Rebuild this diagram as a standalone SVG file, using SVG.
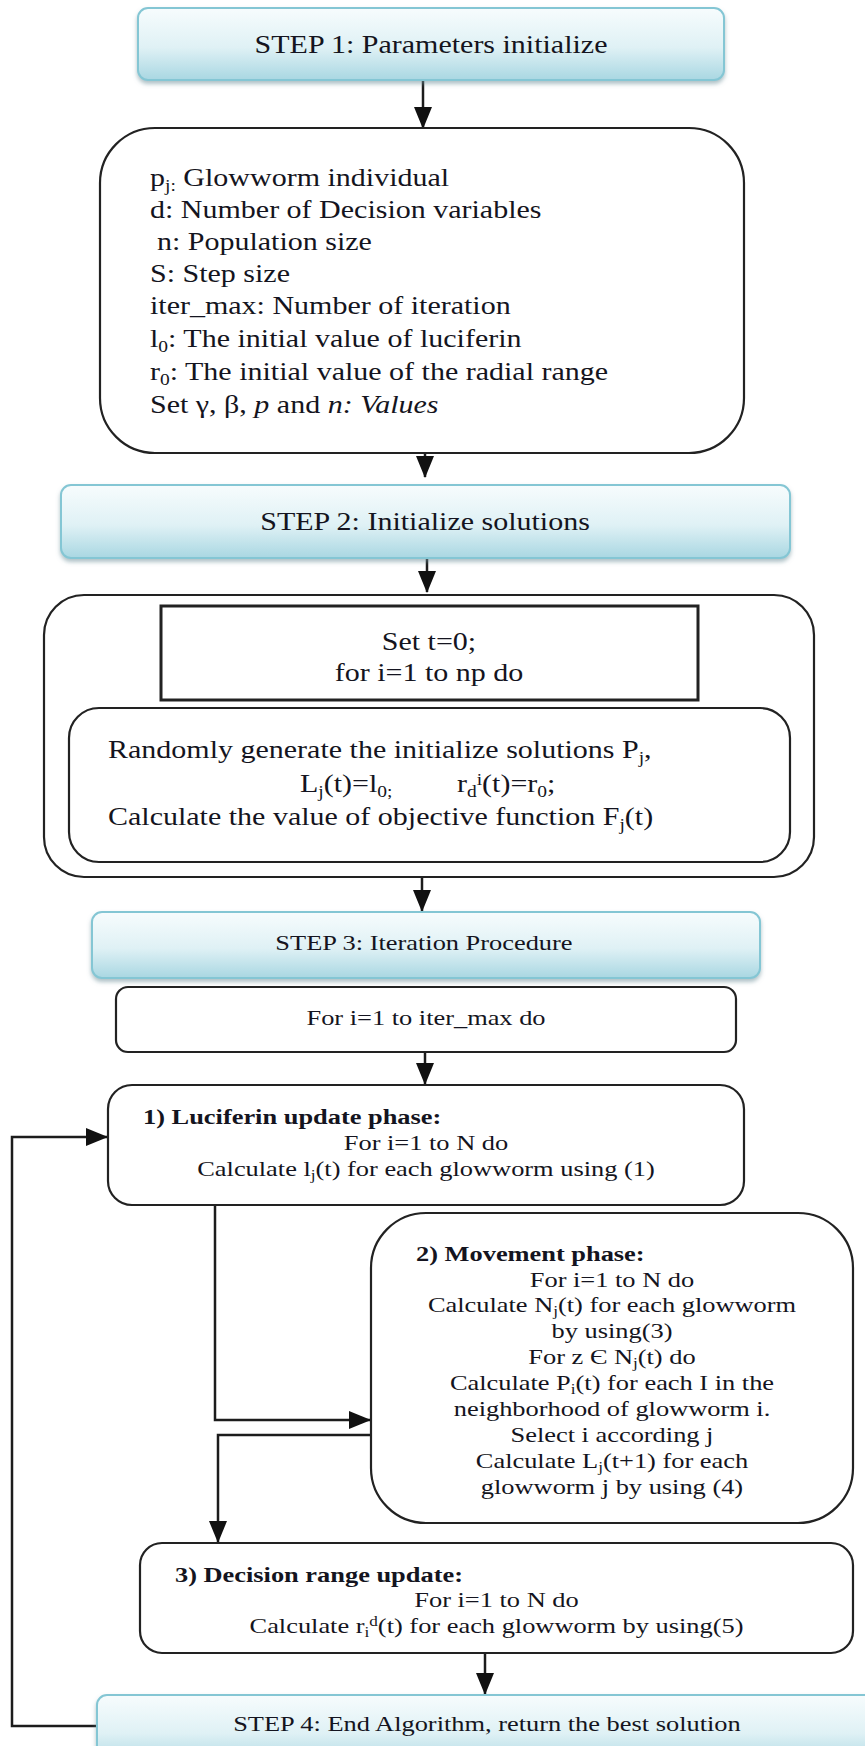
<svg xmlns="http://www.w3.org/2000/svg" width="865" height="1746" viewBox="0 0 865 1746">
  <defs>
    <linearGradient id="stepFill" x1="0" y1="0" x2="0" y2="1">
      <stop offset="0" stop-color="#f7fcfd"/>
      <stop offset="0.55" stop-color="#dff1f5"/>
      <stop offset="1" stop-color="#a9d7e2"/>
    </linearGradient>
    <filter id="shadow" x="-5%" y="-20%" width="110%" height="150%">
      <feDropShadow dx="0" dy="3" stdDeviation="2" flood-color="#6d8f99" flood-opacity="0.55"/>
    </filter>
    <marker id="arrow" markerUnits="userSpaceOnUse" markerWidth="22" markerHeight="18" refX="21" refY="9" orient="auto">
      <path d="M0,0 L22,9 L0,18 z" fill="#111"/>
    </marker>
    <style>
      .step { fill: url(#stepFill); stroke: #84c6d4; stroke-width: 2; filter: url(#shadow); }
      .box { fill: #fff; stroke: #222; stroke-width: 2.2; }
      .rect { fill: #fff; stroke: #222; stroke-width: 3; }
      .link { fill: none; stroke: #1c1c1c; stroke-width: 2.5; }
      .arrowed { marker-end: url(#arrow); }
      text { font-family: "Liberation Serif", "Times New Roman", serif; fill: #141420; }
      .big { font-size: 25px; }
      .small { font-size: 22px; }
      .mid { text-anchor: middle; }
      .b { font-weight: bold; }
      .sub { font-size: 65%; }
    </style>
  </defs>

  <!-- connectors -->
  <g id="connectors">
    <path class="link arrowed" d="M423,80 V128"/>
    <path class="link arrowed" d="M425,452 V477"/>
    <path class="link arrowed" d="M427,558 V592"/>
    <path class="link arrowed" d="M422,877 V911"/>
    <path class="link arrowed" d="M425,1052 V1084"/>
    <path class="link arrowed" d="M215,1205 V1420 H370"/>
    <path class="link arrowed" d="M371,1435 H218 V1542" stroke="#333" stroke-width="3"/>
    <path class="link arrowed" d="M485,1653 V1694"/>
    <path class="link arrowed" d="M96,1726 H12 V1137 H107"/>
  </g>

  <!-- STEP 1 -->
  <g id="step1">
    <rect class="step" x="138" y="8" width="586" height="72" rx="10"/>
    <g transform="scale(1.2,1)">
      <text class="big mid" x="359.2" y="53">STEP 1: Parameters initialize</text>
    </g>
  </g>

  <!-- parameter list -->
  <g id="params">
    <rect class="box" x="100" y="128" width="644" height="325" rx="55"/>
    <g transform="scale(1.2,1)" class="big">
      <text x="125" y="186">p<tspan class="sub" dy="5">j:</tspan><tspan dy="-5"> Glowworm individual</tspan></text>
      <text x="125" y="218">d: Number of Decision variables</text>
      <text x="130.8" y="250">n: Population size</text>
      <text x="125" y="282">S: Step size</text>
      <text x="125" y="314">iter_max: Number of iteration</text>
      <text x="125" y="347">l<tspan class="sub" dy="5">0</tspan><tspan dy="-5">: The initial value of luciferin</tspan></text>
      <text x="125" y="380">r<tspan class="sub" dy="5">0</tspan><tspan dy="-5">: The initial value of the radial range</tspan></text>
      <text x="125" y="413">Set γ, β, <tspan font-style="italic">p</tspan> and <tspan font-style="italic">n: Values</tspan></text>
    </g>
  </g>

  <!-- STEP 2 -->
  <g id="step2">
    <rect class="step" x="61" y="485" width="729" height="73" rx="10"/>
    <g transform="scale(1.2,1)">
      <text class="big mid" x="354.2" y="530">STEP 2: Initialize solutions</text>
    </g>
  </g>

  <!-- initialization block -->
  <g id="init">
    <rect class="box" x="44" y="595" width="770" height="282" rx="40"/>
  </g>
  <g id="init-loop">
    <rect class="rect" x="161" y="606" width="537" height="94"/>
    <g transform="scale(1.2,1)" class="big">
      <text class="mid" x="357.5" y="650">Set t=0;</text>
      <text class="mid" x="357.5" y="681">for i=1 to np do</text>
    </g>
  </g>
  <g id="init-body">
    <rect class="box" x="69" y="708" width="721" height="154" rx="30"/>
    <g transform="scale(1.2,1)" class="big">
      <text x="90" y="758">Randomly generate the initialize solutions P<tspan class="sub" dy="5">j</tspan><tspan dy="-5">,</tspan></text>
      <text x="250" y="792">L<tspan class="sub" dy="5">j</tspan><tspan dy="-5">(t)=l</tspan><tspan class="sub" dy="5">0;</tspan></text>
      <text x="380.8" y="792">r<tspan class="sub" dy="5">d</tspan><tspan class="sub" dy="-12">i</tspan><tspan dy="7">(t)=r</tspan><tspan class="sub" dy="5">0</tspan><tspan dy="-5">;</tspan></text>
      <text x="90" y="825">Calculate the value of objective function F<tspan class="sub" dy="5">j</tspan><tspan dy="-5">(t)</tspan></text>
    </g>
  </g>

  <!-- STEP 3 -->
  <g id="step3">
    <rect class="step" x="92" y="912" width="668" height="66" rx="10"/>
    <g transform="scale(1.2,1)">
      <text class="small mid" x="353.3" y="950">STEP 3: Iteration Procedure</text>
    </g>
  </g>

  <!-- outer iteration loop -->
  <g id="iter-loop">
    <rect class="box" x="116" y="987" width="620" height="65" rx="12"/>
    <g transform="scale(1.2,1)">
      <text class="small mid" x="355" y="1025">For i=1 to iter_max do</text>
    </g>
  </g>

  <!-- phase 1 -->
  <g id="luciferin">
    <rect class="box" x="108" y="1085" width="636" height="120" rx="24"/>
    <g transform="scale(1.2,1)" class="small">
      <text class="b" x="119.2" y="1124">1) Luciferin update phase:</text>
      <text class="mid" x="355" y="1150">For i=1 to N do</text>
      <text class="mid" x="355" y="1176">Calculate l<tspan class="sub" dy="4">j</tspan><tspan dy="-4">(t) for each glowworm using (1)</tspan></text>
    </g>
  </g>

  <!-- phase 2 -->
  <g id="movement">
    <rect class="box" x="371" y="1213" width="482" height="310" rx="55"/>
    <g transform="scale(1.2,1)" class="small">
      <text class="b" x="346.7" y="1261">2) Movement phase:</text>
      <text class="mid" x="510" y="1287">For i=1 to N do</text>
      <text class="mid" x="510" y="1312">Calculate N<tspan class="sub" dy="4">j</tspan><tspan dy="-4">(t) for each glowworm</tspan></text>
      <text class="mid" x="510" y="1338">by using(3)</text>
      <text class="mid" x="510" y="1364">For z Є N<tspan class="sub" dy="4">j</tspan><tspan dy="-4">(t) do</tspan></text>
      <text class="mid" x="510" y="1390">Calculate P<tspan class="sub" dy="4">i</tspan><tspan dy="-4">(t) for each I in the</tspan></text>
      <text class="mid" x="510" y="1416">neighborhood of glowworm i.</text>
      <text class="mid" x="510" y="1442">Select i according j</text>
      <text class="mid" x="510" y="1468">Calculate L<tspan class="sub" dy="4">j</tspan><tspan dy="-4">(t+1) for each</tspan></text>
      <text class="mid" x="510" y="1494">glowworm j by using (4)</text>
    </g>
  </g>

  <!-- phase 3 -->
  <g id="decision">
    <rect class="box" x="140" y="1543" width="713" height="110" rx="22"/>
    <g transform="scale(1.2,1)" class="small">
      <text class="b" x="145.8" y="1582">3) Decision range update:</text>
      <text class="mid" x="413.75" y="1607">For i=1 to N do</text>
      <text class="mid" x="413.75" y="1633">Calculate r<tspan class="sub" dy="4">i</tspan><tspan class="sub" dy="-11">d</tspan><tspan dy="7">(t) for each glowworm by using(5)</tspan></text>
    </g>
  </g>

  <!-- STEP 4 -->
  <g id="step4">
    <rect class="step" x="97" y="1695" width="790" height="70" rx="10"/>
    <g transform="scale(1.2,1)">
      <text class="small mid" x="405.8" y="1731">STEP 4: End Algorithm, return the best solution</text>
    </g>
  </g>
</svg>
